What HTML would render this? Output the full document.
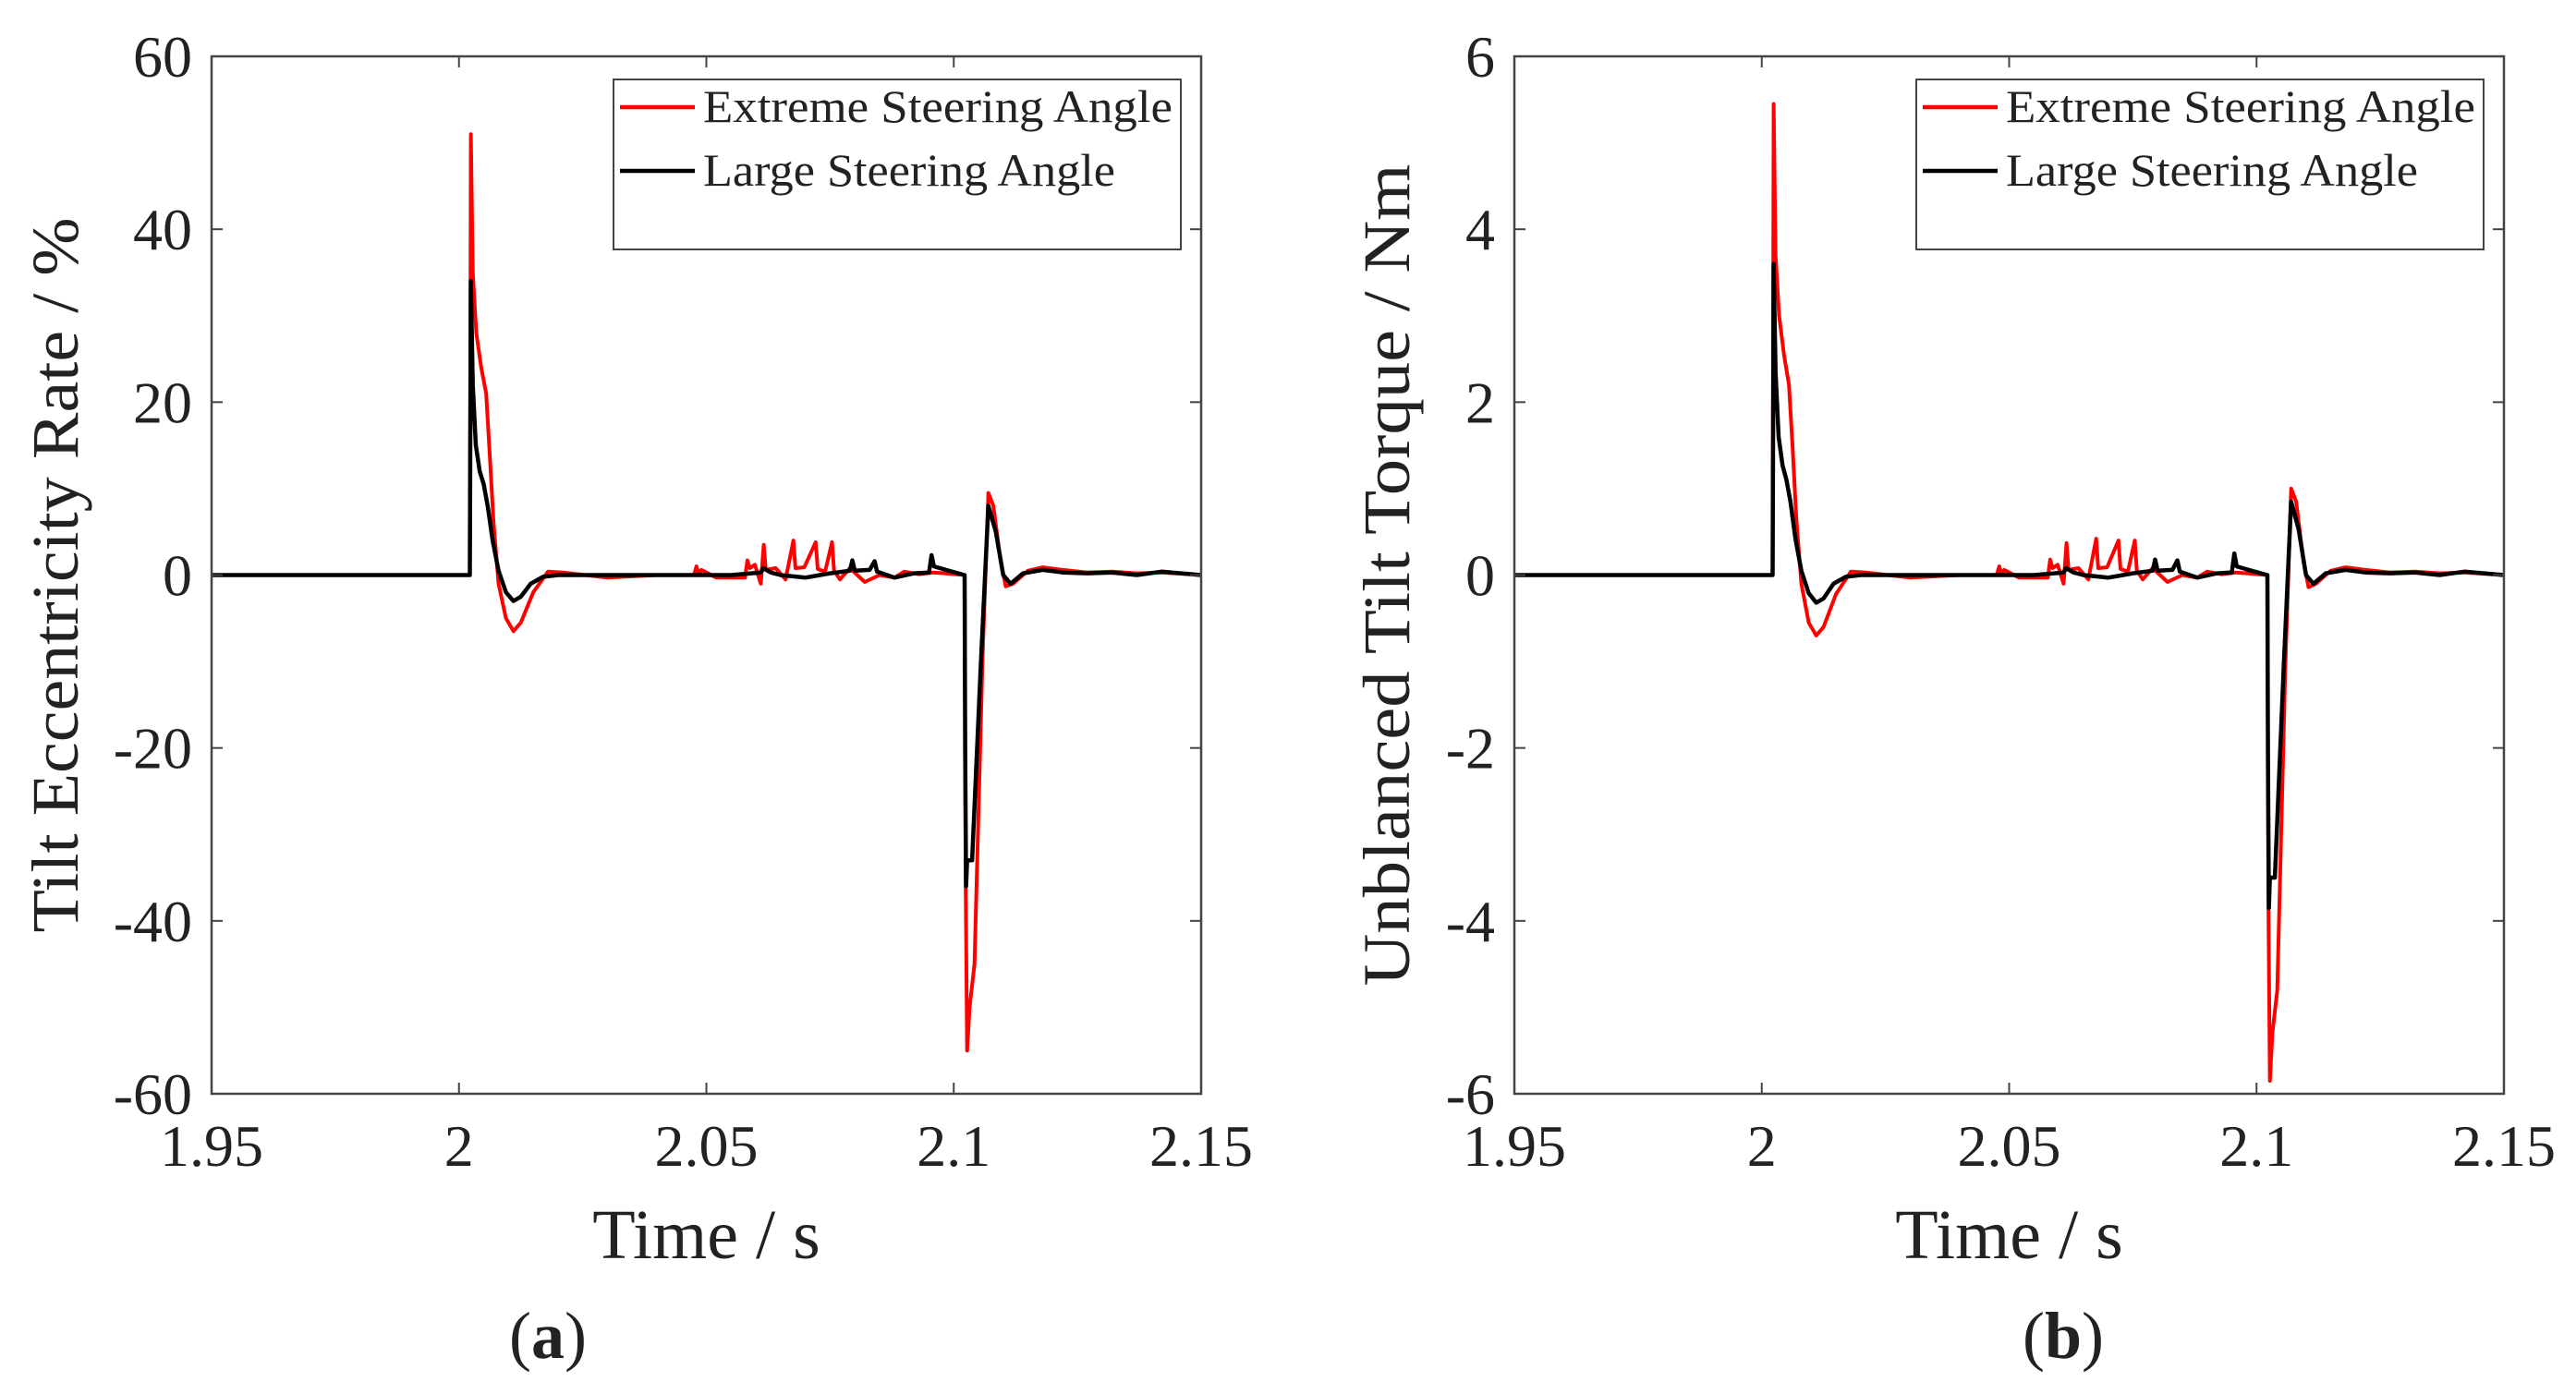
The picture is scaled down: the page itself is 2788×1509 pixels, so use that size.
<!DOCTYPE html>
<html><head><meta charset="utf-8"><style>
html,body{margin:0;padding:0;background:#fff;}
svg{display:block;}
text{font-family:"Liberation Serif",serif;fill:#222;}
</style></head><body>
<svg id="fig" width="2788" height="1509" viewBox="0 0 2788 1509" xmlns="http://www.w3.org/2000/svg"></svg>
<script>
// ---- data (panel a: tilt eccentricity rate, %) ----
const aRedT=[1.95,2.0022,2.0024,2.0028,2.0035,2.0045,2.0055,2.0062,2.007,2.008,2.0095,2.011,2.0125,2.015,2.018,2.021,2.03,2.04,2.0475,2.048,2.0485,2.049,2.05,2.052,2.0578,2.0583,2.0588,2.0598,2.061,2.0616,2.062,2.064,2.066,2.0676,2.068,2.0698,2.0721,2.0725,2.074,2.0754,2.0758,2.077,2.079,2.082,2.085,2.088,2.09,2.093,2.096,2.1022,2.1024,2.1027,2.1032,2.1042,2.1058,2.107,2.108,2.1095,2.1105,2.112,2.115,2.118,2.122,2.127,2.132,2.137,2.142,2.15];
const aRedV=[0,0,51,35,28,24,21,14,6,-1,-5,-6.5,-5.5,-2,0.4,0.3,-0.3,0,0,1,0,0.6,0.3,-0.3,-0.3,1.7,0.8,1.2,-1,3.5,0.6,0.8,-0.5,4,0.8,0.9,3.8,0.7,0.4,3.8,0.5,-0.5,0.8,-0.8,0,-0.3,0.4,0.1,0.3,0,-35,-55,-50,-45,-10,9.5,8,1.5,-1.3,-1,0.5,0.9,0.6,0.3,0.4,0.2,0.3,0];
const aBlkT=[1.95,2.0022,2.0024,2.0028,2.0034,2.0042,2.005,2.0058,2.0068,2.008,2.0095,2.011,2.0125,2.0145,2.017,2.02,2.03,2.055,2.061,2.0615,2.063,2.065,2.07,2.075,2.079,2.0795,2.08,2.083,2.084,2.0845,2.088,2.092,2.095,2.0955,2.096,2.099,2.1022,2.1023,2.1025,2.1027,2.1037,2.1055,2.107,2.1085,2.11,2.1115,2.114,2.118,2.122,2.127,2.132,2.137,2.142,2.15];
const aBlkV=[0,0,34,22,15,12,10.5,8,4,0.5,-2,-3,-2.5,-1,-0.2,0,0,0,0.3,0.8,0.3,0,-0.3,0.2,0.5,1.7,0.5,0.6,1.6,0.4,-0.3,0.2,0.3,2.3,1,0.5,0,-20,-36,-33,-33,-10,8,5,0,-1,0.2,0.6,0.3,0.2,0.3,0,0.4,0];
// ---- data (panel b: unbalanced tilt torque, Nm) ----
const bRedT=aRedT.slice();
const bRedV=[0,0,5.45,3.7,3.0,2.55,2.2,1.5,0.65,-0.1,-0.55,-0.7,-0.6,-0.22,0.04,0.03,-0.03,0,0,0.1,0,0.06,0.03,-0.03,-0.03,0.18,0.08,0.12,-0.1,0.37,0.06,0.08,-0.05,0.42,0.08,0.09,0.4,0.07,0.04,0.4,0.05,-0.05,0.08,-0.08,0,-0.03,0.04,0.01,0.03,0,-3.8,-5.85,-5.3,-4.8,-1.1,1.0,0.85,0.15,-0.14,-0.1,0.05,0.09,0.06,0.03,0.04,0.02,0.03,0];
const bBlkT=aBlkT.slice();
const bBlkV=[0,0,3.6,2.35,1.6,1.27,1.1,0.85,0.42,0.05,-0.21,-0.32,-0.27,-0.1,-0.02,0,0,0,0.03,0.08,0.03,0,-0.03,0.02,0.05,0.18,0.05,0.06,0.17,0.04,-0.03,0.02,0.03,0.25,0.1,0.05,0,-2.1,-3.85,-3.5,-3.5,-1.05,0.85,0.53,0,-0.1,0.02,0.06,0.03,0.02,0.03,0,0.04,0];
const xTicks=[1.95,2,2.05,2.1,2.15];
const xTickLabels=["1.95","2","2.05","2.1","2.15"];
const aYTicks=[-60,-40,-20,0,20,40,60];
const aYTickLabels=["-60","-40","-20","0","20","40","60"];
const bYTicks=[-6,-4,-2,0,2,4,6];
const bYTickLabels=["-6","-4","-2","0","2","4","6"];
const legendLabels=["Extreme Steering Angle","Large Steering Angle"];

const NS="http://www.w3.org/2000/svg";
const svg=document.getElementById('fig');
function mk(tag,attrs,parent){const e=document.createElementNS(NS,tag);for(const k in attrs)e.setAttribute(k,attrs[k]);(parent||svg).appendChild(e);return e;}

function panel(off,yMin,yMax,yT,yTL,series,ylabel,ylabelLen,ylabelX,letter,letterX,key){
  const L=229+off,R=1300+off,T=61,B=1184;
  const g=mk('g',{});
  
  
  const xs=t=>L+(t-1.95)/(0.2)*(R-L);
  const ys=v=>B-(v-yMin)/(yMax-yMin)*(B-T);
  series.forEach(s=>{
    let d='';
    s.t.forEach((t,i)=>{d+=(i?'L':'M')+xs(t).toFixed(1)+' '+ys(s.v[i]).toFixed(1);});
    const p=mk('path',{d:d,fill:'none',stroke:s.c,'stroke-width':s.w,'stroke-linejoin':'round'},g);
    
    
  });
  const box=mk('rect',{x:L,y:T,width:R-L,height:B-T,fill:'none',stroke:'#444','stroke-width':2.5},g);
  
  
  xTicks.forEach((t,i)=>{
    const x=xs(t);
    mk('line',{x1:x,y1:B,x2:x,y2:B-12,stroke:'#444','stroke-width':2},g);
    mk('line',{x1:x,y1:T,x2:x,y2:T+12,stroke:'#444','stroke-width':2},g);
    const tx=mk('text',{x:x,y:1262,'text-anchor':'middle','font-size':64},g);
    tx.textContent=xTickLabels[i];
    
    
  });
  yT.forEach((v,i)=>{
    const y=ys(v);
    mk('line',{x1:L,y1:y,x2:L+12,y2:y,stroke:'#444','stroke-width':2},g);
    mk('line',{x1:R,y1:y,x2:R-12,y2:y,stroke:'#444','stroke-width':2},g);
    const tx=mk('text',{x:L-21,y:y+22,'text-anchor':'end','font-size':64},g);
    tx.textContent=yTL[i];
    
    
  });
  const xl=mk('text',{x:(L+R)/2,y:1362,'text-anchor':'middle','font-size':76},g);
  xl.textContent='Time / s';
  
  
  const cy=(T+B)/2;
  const yl=mk('text',{x:0,y:0,'text-anchor':'middle','font-size':72,textLength:ylabelLen,lengthAdjust:'spacingAndGlyphs',transform:`translate(${ylabelX},${cy}) rotate(-90)`},g);
  yl.textContent=ylabel;
  
  
  const lx=664+off;
  const lg=mk('g',{},g);
  
  
  mk('rect',{x:lx,y:86,width:614,height:184,fill:'#fff',stroke:'#444','stroke-width':2},lg);
  [['#ff0000',116],['#000',185]].forEach((c,i)=>{
    const ln=mk('line',{x1:lx+7,y1:c[1],x2:lx+88,y2:c[1],stroke:c[0],'stroke-width':4.5},lg);
    
    
    const tx=mk('text',{x:lx+97,y:c[1]+16,'font-size':50,textLength:i?446:508,lengthAdjust:'spacingAndGlyphs'},lg);
    tx.textContent=legendLabels[i];
    
    
  });
  const lt=mk('text',{x:letterX,y:1470,'text-anchor':'middle','font-size':72},g);
  lt.innerHTML='(<tspan font-weight="bold">'+letter+'</tspan>)';
  
  
}
panel(0,-60,60,aYTicks,aYTickLabels,[
  {t:aRedT,v:aRedV,c:'#ff0000',w:4,name:'series-extreme'},
  {t:aBlkT,v:aBlkV,c:'#000',w:4.5,name:'series-large'}],
  'Tilt Eccentricity Rate / %',774,84,'a',593,'a');
panel(1410,-6,6,bYTicks,bYTickLabels,[
  {t:bRedT,v:bRedV,c:'#ff0000',w:4,name:'series-extreme'},
  {t:bBlkT,v:bBlkV,c:'#000',w:4.5,name:'series-large'}],
  'Unblanced Tilt Torque / Nm',890,1525,'b',2233,'b');
</script>
</body></html>
